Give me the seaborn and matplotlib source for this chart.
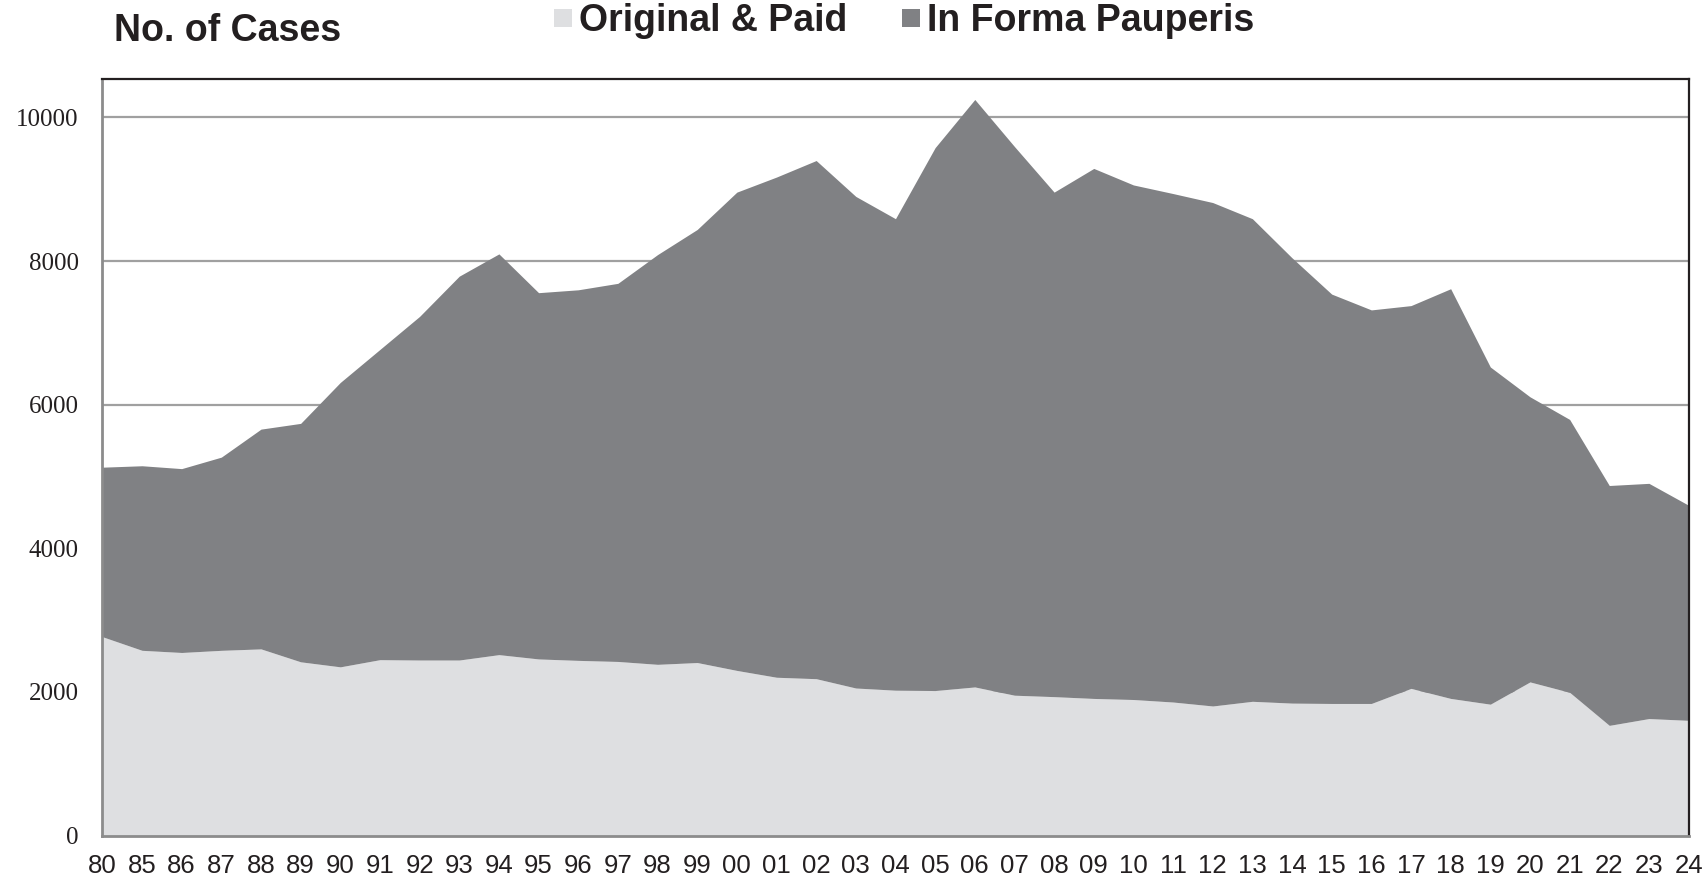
import matplotlib
matplotlib.use('Agg')
import numpy as np
import pandas as pd
import matplotlib.pyplot as plt
import seaborn as sns
from matplotlib.patches import Rectangle

years = ['80', '85', '86', '87', '88', '89', '90', '91', '92', '93', '94', '95', '96', '97',
         '98', '99', '00', '01', '02', '03', '04', '05', '06', '07', '08', '09', '10', '11',
         '12', '13', '14', '15', '16', '17', '18', '19', '20', '21', '22', '23', '24']

original_paid = [2770, 2580, 2550, 2580, 2600, 2420, 2350, 2450, 2445, 2445, 2520, 2460, 2440, 2425,
                 2385, 2410, 2300, 2205, 2185, 2055, 2025, 2020, 2070, 1955, 1935, 1910, 1895, 1860,
                 1805, 1870, 1845, 1840, 1840, 2050, 1910, 1830, 2140, 1995, 1535, 1630, 1605]

forma_pauperis = [2360, 2570, 2560, 2690, 3060, 3320, 3960, 4320, 4785, 5345, 5580, 5100, 5160, 5265,
                  5705, 6030, 6660, 6965, 7215, 6845, 6565, 7560, 8180, 7640, 7025, 7380, 7165, 7080,
                  7010, 6720, 6200, 5700, 5480, 5330, 5705, 4695, 3970, 3800, 3340, 3275, 2995]

series_names = ['Original & Paid', 'In Forma Pauperis']
yticks = [0, 2000, 4000, 6000, 8000, 10000]

df = pd.DataFrame({'year': years, series_names[0]: original_paid, series_names[1]: forma_pauperis})

sns.set_style('white')
plt.rcParams['font.family'] = ['Liberation Sans', 'DejaVu Sans']

colors = ['#dedfe1', '#808184']

fig = plt.figure(figsize=(17.06, 8.82), dpi=100)
ax = fig.add_axes([0.060, 0.0526, 0.9298, 0.8574])

x = np.arange(len(df))
ax.stackplot(x, df[series_names[0]], df[series_names[1]], colors=colors, linewidth=0)

ax.set_xlim(0, len(df) - 1)
ax.set_ylim(0, 10530)
ax.set_yticks(yticks)
ax.set_yticklabels([str(v) for v in yticks], family='Liberation Serif', fontsize=18, color='#231f20')
ax.set_xticks(x)
ax.set_xticklabels(df['year'], fontsize=18.5, color='#231f20')

for v in yticks[1:]:
    ax.axhline(v, color='#a0a0a0', lw=1.6, zorder=0.5)

ax.tick_params(axis='y', length=0, pad=17)
ax.tick_params(axis='x', length=8, width=1.5, color='#8c8c8c', pad=5, direction='out')

for side in ['left', 'bottom']:
    ax.spines[side].set_color('#8c8c8c')
    ax.spines[side].set_linewidth(2)
for side in ['top', 'right']:
    ax.spines[side].set_color('#231f20')
    ax.spines[side].set_linewidth(1.6)

fig.text(0.067, 0.953, 'No. of Cases', fontsize=27, fontweight='bold',
         ha='left', va='baseline', color='#231f20')

# legend drawn by hand across the top
legend_x = [0.3246, 0.5287]
for lx, name, c in zip(legend_x, series_names, colors):
    fig.patches.append(Rectangle((lx, 0.969), 0.0108, 0.021, transform=fig.transFigure,
                                 facecolor=c, edgecolor='none'))
    fig.text(lx + 0.0147, 0.9654, name, fontsize=27, fontweight='bold',
             ha='left', va='baseline', color='#231f20')

fig.savefig('out.png', dpi=100)
